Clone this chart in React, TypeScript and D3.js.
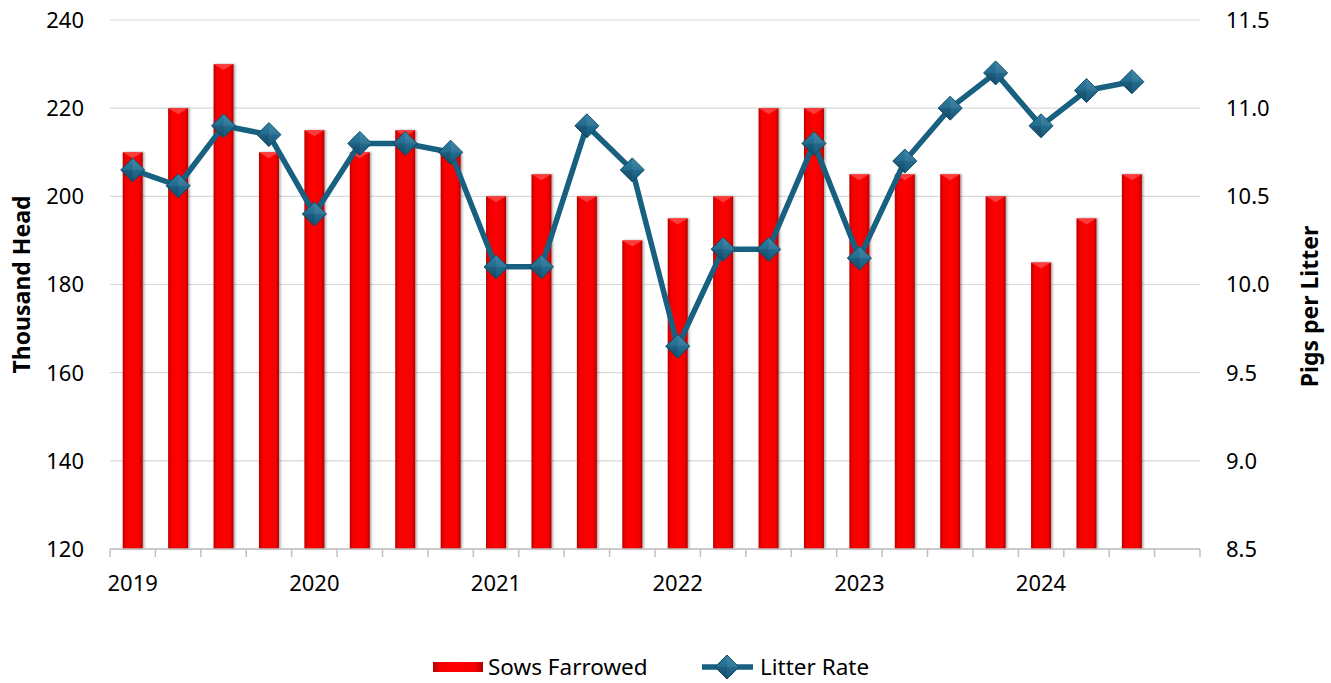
import React from "react";
import * as d3 from "d3";

const categories: string[] = [
  "2019Q1","2019Q2","2019Q3","2019Q4",
  "2020Q1","2020Q2","2020Q3","2020Q4",
  "2021Q1","2021Q2","2021Q3","2021Q4",
  "2022Q1","2022Q2","2022Q3","2022Q4",
  "2023Q1","2023Q2","2023Q3","2023Q4",
  "2024Q1","2024Q2","2024Q3","2024Q4",
];
const yearLabels: Record<string, string> = {
  "2019Q1": "2019", "2020Q1": "2020", "2021Q1": "2021",
  "2022Q1": "2022", "2023Q1": "2023", "2024Q1": "2024",
};
const sowsFarrowed: number[] = [210,220,230,210,215,210,215,210,200,205,200,190,195,200,220,220,205,205,205,200,185,195,205];
const litterRate: number[] = [10.65,10.56,10.9,10.85,10.4,10.8,10.8,10.75,10.1,10.1,10.9,10.65,9.65,10.2,10.2,10.8,10.15,10.7,11.0,11.2,10.9,11.1,11.15];
const leftTicks: number[] = [120,140,160,180,200,220,240];
const rightTicks: number[] = [8.5,9.0,9.5,10.0,10.5,11.0,11.5];

const W = 1331, H = 683;
const M = { left: 110, right: 1200, top: 20, bottom: 549 };
const FONT = "'Noto Sans', 'Open Sans', sans-serif";
const LINE = "#17607f";

export default function App() {
  const x = d3.scaleBand<string>().domain(categories).range([M.left, M.right]).paddingInner(0).paddingOuter(0);
  const yL = d3.scaleLinear().domain([120, 240]).range([M.bottom, M.top]);
  const yR = d3.scaleLinear().domain([8.5, 11.5]).range([M.bottom, M.top]);
  const bw = x.bandwidth() * 0.44;
  const cx = (i: number) => (x(categories[i]) as number) + x.bandwidth() / 2;
  const lineGen = d3.line<number>().x((_, i) => cx(i)).y((d) => yR(d));
  const ds = 12;
  const diamond = (px: number, py: number, key: string | number) => (
    <g key={key}>
      <path d={`M${px},${py - ds}L${px + ds},${py}L${px},${py + ds}L${px - ds},${py}Z`} fill="url(#dg)" stroke="#0f4a63" strokeWidth={1} />
      <path d={`M${px},${py - ds}L${px + ds},${py}L${px},${py}Z`} fill="#ffffff" opacity={0.08} />
      <path d={`M${px - ds},${py}L${px},${py + ds}L${px},${py}Z`} fill="#000000" opacity={0.12} />
    </g>
  );
  return (
    <svg width={W} height={H} style={{ position: "absolute", left: 0, top: 0, background: "#fff" }}>
      <defs>
        <linearGradient id="bg" x1="0" x2="1" y1="0" y2="0">
          <stop offset="0" stopColor="#b80000" />
          <stop offset="0.15" stopColor="#f20000" />
          <stop offset="0.5" stopColor="#ff0000" />
          <stop offset="0.85" stopColor="#f20000" />
          <stop offset="1" stopColor="#b00000" />
        </linearGradient>
        <linearGradient id="dg" x1="0" x2="0" y1="0" y2="1">
          <stop offset="0" stopColor="#2f7fa3" />
          <stop offset="1" stopColor="#16577a" />
        </linearGradient>
        <filter id="sh" x="-30%" y="-5%" width="160%" height="110%">
          <feDropShadow dx="1.5" dy="0" stdDeviation="1.2" floodColor="#000" floodOpacity="0.35" />
        </filter>
      </defs>
      {leftTicks.map((t) => (
        <line key={"g" + t} x1={M.left} x2={M.right} y1={yL(t)} y2={yL(t)} stroke="#d9d9d9" strokeWidth={1.2} />
      ))}
      {leftTicks.map((t) => (
        <text key={"l" + t} x={84} y={yL(t)} dy="0.36em" textAnchor="end" fontFamily={FONT} fontSize={22} fill="#000">{t}</text>
      ))}
      {rightTicks.map((t) => (
        <text key={"r" + t} x={1226} y={yR(t)} dy="0.36em" textAnchor="start" fontFamily={FONT} fontSize={22} fill="#000">{t.toFixed(1)}</text>
      ))}
      {sowsFarrowed.map((v, i) => {
        const bx = cx(i) - bw / 2;
        const top = yL(v);
        return (
          <g key={"b" + i} filter="url(#sh)">
            <rect x={bx} y={top} width={bw} height={M.bottom - top} fill="url(#bg)" />
            <path d={`M${bx},${top}L${bx + bw},${top}L${bx + bw / 2},${top + 6}Z`} fill="#ff6060" opacity={0.6} />
          </g>
        );
      })}
      <line x1={M.left} x2={M.right} y1={M.bottom} y2={M.bottom} stroke="#bfbfbf" strokeWidth={1.5} />
      {categories.concat(["end"]).map((c, i) => {
        const tx = M.left + i * x.bandwidth();
        return <line key={"t" + i} x1={tx} x2={tx} y1={M.bottom} y2={M.bottom + 8} stroke="#bfbfbf" strokeWidth={1.5} />;
      })}
      {categories.map((c, i) =>
        yearLabels[c] ? (
          <text key={"y" + c} x={cx(i)} y={591} textAnchor="middle" fontFamily={FONT} fontSize={22} fill="#000">{yearLabels[c]}</text>
        ) : null
      )}
      <path d={lineGen(litterRate) || ""} fill="none" stroke={LINE} strokeWidth={5.5} strokeLinejoin="round" />
      {litterRate.map((v, i) => diamond(cx(i), yR(v), "d" + i))}
      <text transform={`translate(30,${(M.top + M.bottom) / 2}) rotate(-90)`} textAnchor="middle" fontFamily={FONT} fontWeight="bold" fontSize={23} fill="#000">Thousand Head</text>
      <text transform={`translate(1318,${(M.top + M.bottom) / 2 + 22}) rotate(-90)`} textAnchor="middle" fontFamily={FONT} fontWeight="bold" fontSize={23} fill="#000">Pigs per Litter</text>
      <g>
        <rect x={433} y={662} width={50} height={10} fill="url(#bg)" />
        <text x={488} y={667} dy="0.36em" fontFamily={FONT} fontSize={22.5} fill="#000">Sows  Farrowed</text>
        <line x1={702} x2={753} y1={667} y2={667} stroke={LINE} strokeWidth={5.5} />
        {diamond(727, 667, "leg")}
        <text x={760} y={667} dy="0.36em" fontFamily={FONT} fontSize={22.5} fill="#000">Litter Rate</text>
      </g>
    </svg>
  );
}
